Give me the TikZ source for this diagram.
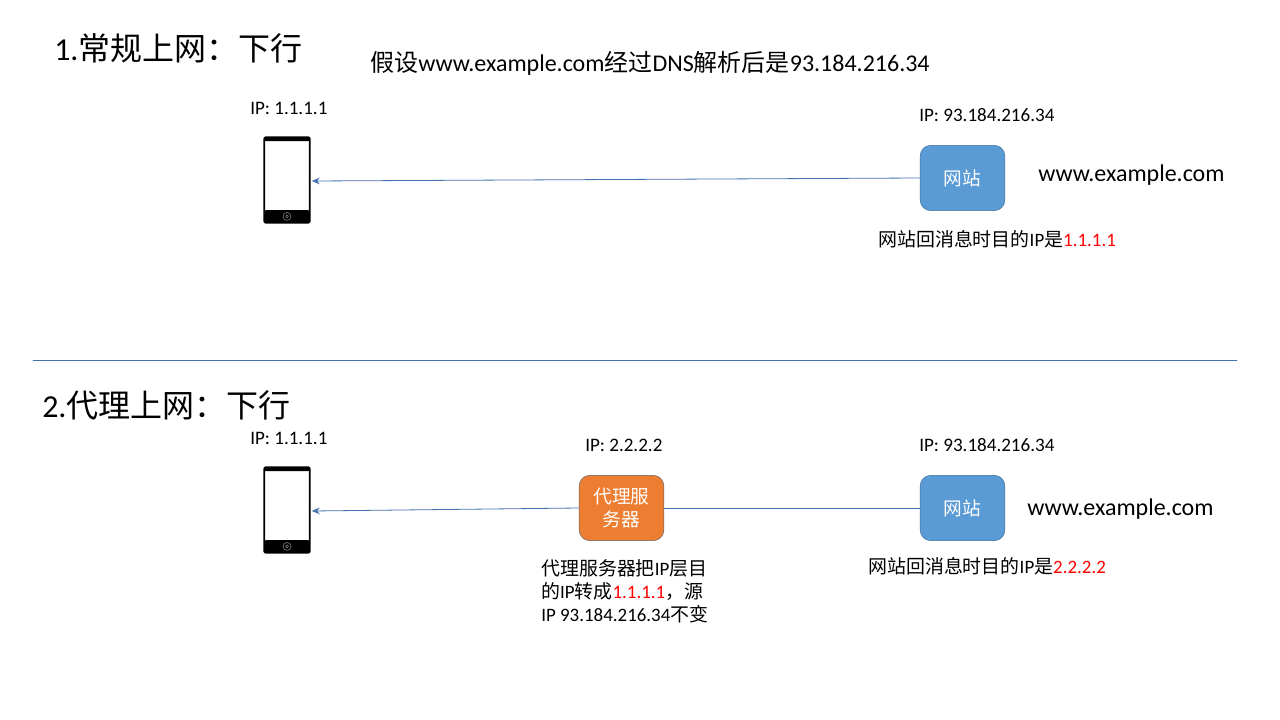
\documentclass[tikz,border=0pt]{standalone}
\usepackage{fontspec}
\setmainfont{Carlito}
\newfontfamily\cjk{Noto Sans CJK SC}
\usetikzlibrary{arrows.meta, positioning, calc}
\definecolor{siteBlue}{RGB}{91,155,213}
\definecolor{siteBorder}{RGB}{65,113,156}
\definecolor{proxyOrange}{RGB}{237,125,49}
\definecolor{proxyBorder}{RGB}{100,100,100}
\definecolor{linkBlue}{RGB}{68,114,176}
\definecolor{noteRed}{RGB}{255,0,0}
\newcommand{\zh}[1]{{\cjk #1}}
\newcommand{\hl}[1]{\textcolor{noteRed}{#1}}
\tikzset{
    schema/.style={x=0.75pt, y=-0.75pt, >=Stealth, line cap=round, line join=round},
    bigtitle/.style={anchor=base west, inner sep=0pt, font=\fontsize{24}{28}\selectfont},
    headline/.style={anchor=base west, inner sep=0pt, font=\fontsize{18}{22}\selectfont},
    sitename/.style={anchor=base west, inner sep=0pt, font=\fontsize{18}{22}\selectfont},
    iplabel/.style={anchor=base west, inner sep=0pt, font=\fontsize{14.3}{17}\selectfont},
    note/.style={anchor=base west, inner sep=0pt, align=left, font=\fontsize{14.2}{17}\selectfont},
    hostbox/.style={draw=siteBorder, fill=siteBlue, text=white, rounded corners=8pt,
                    minimum width=63.5pt, minimum height=49pt, inner sep=1pt,
                    align=center, font=\fontsize{14}{17}\selectfont},
    proxybox/.style={hostbox, draw=proxyBorder, fill=proxyOrange},
    phonebox/.style={draw=black, line width=1.4pt, fill=white, rounded corners=1.5pt,
                     minimum width=34.2pt, minimum height=64.2pt, inner sep=0pt,
                     path picture={
                        \fill[black] (path picture bounding box.north west) rectangle
                            ($(path picture bounding box.north east)+(0,-3pt)$);
                        \fill[black] (path picture bounding box.south west) rectangle
                            ($(path picture bounding box.south east)+(0,9.5pt)$);
                        \draw[black!55, line width=0.5pt]
                            ($(path picture bounding box.south)+(0,4.8pt)$) circle (3pt)
                            ($(path picture bounding box.south)+(0,4.8pt)$) circle (1.1pt);
                     }},
    link/.style={draw=linkBlue, line width=0.6pt},
    arrow/.style={link, -{Stealth[length=6pt, width=5pt]}},
}

\begin{document}
\begin{tikzpicture}[schema]
\useasboundingbox (0,0) rectangle (1280,720);

% ─── 1. 常规上网 ─────────────────────────────────────────────────────────
\node[bigtitle] (title1) at (54,61) {1.\zh{常规上网：下行}};
\node[headline] (dnsnote) at (370,71.5) {\zh{假设}www.example.com\zh{经过}DNS\zh{解析后是}93.184.216.34};

\node[phonebox] (phone1) at (287,180) {};
\node[iplabel] (phone1ip) at (250,114.5) {IP: 1.1.1.1};

\node[hostbox] (site1) at (962.5,178) {\zh{网站}};
\node[iplabel] (site1ip) at (919,121.5) {IP: 93.184.216.34};
\node[sitename] (site1name) at (1038,182) {www.example.com};
\node[note] (site1note) at (878,247) {\zh{网站回消息时目的}IP\zh{是}\hl{1.1.1.1}};

\draw[arrow] (site1.west) -- ($(phone1.east)+(1,1)$);

% ─── 分隔线 ─────────────────────────────────────────────────────────────
\coordinate (ruleleft) at (33,360);
\coordinate (ruleright) at (1237,360);
\draw[link] (ruleleft) -- (ruleright);

% ─── 2. 代理上网 ─────────────────────────────────────────────────────────
\node[bigtitle] (title2) at (42,417) {2.\zh{代理上网：下行}};

\node[phonebox] (phone2) at (287,510) {};
\node[iplabel] (phone2ip) at (250,444.5) {IP: 1.1.1.1};

\node[proxybox] (proxy) at (621.5,508) {\zh{代理服}\\\zh{务器}};
\node[iplabel] (proxyip) at (585,451.5) {IP: 2.2.2.2};
\node[note] (proxynote) at (541,621) {\zh{代理服务器把}IP\zh{层目}\\
    \zh{的}IP\zh{转成}\hl{1.1.1.1}\zh{，源}\\
    IP 93.184.216.34\zh{不变}};

\node[hostbox] (site2) at (962.5,508) {\zh{网站}};
\node[iplabel] (site2ip) at (919,451.5) {IP: 93.184.216.34};
\node[sitename] (site2name) at (1027,515) {www.example.com};
\node[note] (site2note) at (868,573) {\zh{网站回消息时目的}IP\zh{是}\hl{2.2.2.2}};

\draw[link] (site2.west) -- (proxy.east);
\draw[arrow] (proxy.west) -- ($(phone2.east)+(1,1)$);

\end{tikzpicture}
\end{document}
